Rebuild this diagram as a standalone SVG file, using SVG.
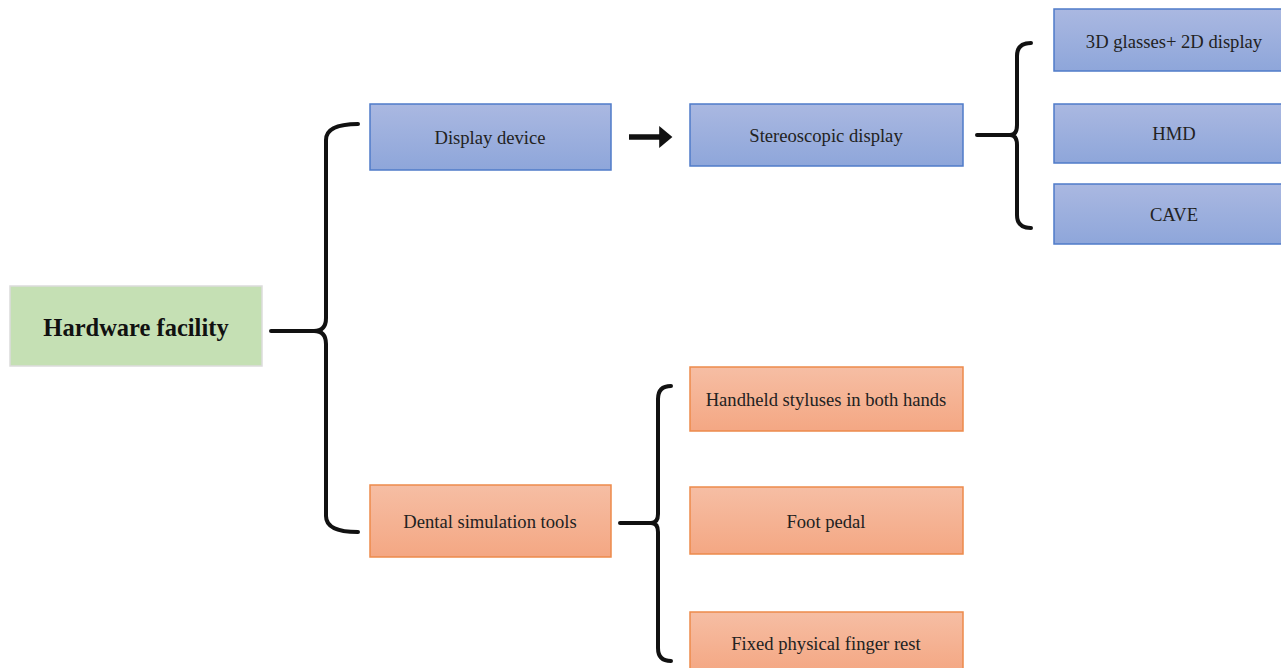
<svg xmlns="http://www.w3.org/2000/svg" width="1281" height="668" viewBox="0 0 1281 668">
  <defs>
    <linearGradient id="blueFill" x1="0" y1="0" x2="0" y2="1">
      <stop offset="0" stop-color="#aab8e1"/>
      <stop offset="1" stop-color="#8ea6da"/>
    </linearGradient>
    <linearGradient id="orangeFill" x1="0" y1="0" x2="0" y2="1">
      <stop offset="0" stop-color="#f6bea4"/>
      <stop offset="1" stop-color="#f4a783"/>
    </linearGradient>
    <marker id="arrowHead" markerWidth="4" markerHeight="4" refX="1.6" refY="2" orient="auto" markerUnits="strokeWidth">
      <path d="M0,0 L2.4,2 L0,4 Z" fill="#111"/>
    </marker>
  </defs>
  <style>
    .label { font-family: "Liberation Serif", "Times New Roman", serif; font-size: 18.6px; fill: #222; text-anchor: middle; dominant-baseline: central; }
    .root { font-size: 24.5px; font-weight: bold; fill: #111; }
    .blue { fill: url(#blueFill); stroke: #4f7bc9; stroke-width: 1.5; }
    .orange { fill: url(#orangeFill); stroke: #ed8a4b; stroke-width: 1.5; }
    .green { fill: #c5e0b4; stroke: #dcdcdc; stroke-width: 1.5; }
    .brace { fill: none; stroke: #111; stroke-width: 4; stroke-linecap: round; stroke-linejoin: round; }
  </style>
  <rect width="1281" height="668" fill="#ffffff"/>

  <g id="connectors">
    <!-- root brace -->
    <path class="brace" d="M358,124 Q326,124 326,140 L326,318 Q326,331 314,331 M358,532 Q326,532 326,516 L326,344 Q326,331 314,331 M271,331 L318,331"/>
    <!-- display device to stereoscopic display -->
    <line x1="629" y1="137" x2="668" y2="137" stroke="#111" stroke-width="5.5" marker-end="url(#arrowHead)"/>
    <!-- stereoscopic display brace -->
    <path class="brace" d="M1031,43 Q1017,43 1017,56 L1017,125 Q1017,135 1010,135 M1031,228 Q1017,228 1017,215 L1017,145 Q1017,135 1010,135 M977,135 L1012,135"/>
    <!-- dental tools brace -->
    <path class="brace" d="M671,386 Q658,386 658,399 L658,514 Q658,523 651,523 M671,661 Q658,661 658,648 L658,532 Q658,523 651,523 M620,523 L653,523"/>
  </g>

  <g id="hardware-facility">
    <rect class="green" x="10" y="286" width="252" height="80"/>
    <text class="label root" x="136" y="327">Hardware facility</text>
  </g>

  <g id="display-device">
    <rect class="blue" x="370" y="104" width="241" height="66"/>
    <text class="label" x="490" y="137">Display device</text>
  </g>

  <g id="stereoscopic-display">
    <rect class="blue" x="690" y="104" width="273" height="62"/>
    <text class="label" x="826" y="135">Stereoscopic display</text>
  </g>

  <g id="glasses-2d-display">
    <rect class="blue" x="1054" y="9" width="230" height="62"/>
    <text class="label" x="1174" y="41">3D glasses+ 2D display</text>
  </g>

  <g id="hmd">
    <rect class="blue" x="1054" y="104" width="230" height="59"/>
    <text class="label" x="1174" y="133">HMD</text>
  </g>

  <g id="cave">
    <rect class="blue" x="1054" y="184" width="230" height="60"/>
    <text class="label" x="1174" y="214">CAVE</text>
  </g>

  <g id="dental-simulation-tools">
    <rect class="orange" x="370" y="485" width="241" height="72"/>
    <text class="label" x="490" y="521">Dental simulation tools</text>
  </g>

  <g id="handheld-styluses">
    <rect class="orange" x="690" y="367" width="273" height="64"/>
    <text class="label" x="826" y="399">Handheld styluses in both hands</text>
  </g>

  <g id="foot-pedal">
    <rect class="orange" x="690" y="487" width="273" height="67"/>
    <text class="label" x="826" y="521">Foot pedal</text>
  </g>

  <g id="finger-rest">
    <rect class="orange" x="690" y="612" width="273" height="60"/>
    <text class="label" x="826" y="643">Fixed physical finger rest</text>
  </g>
</svg>
